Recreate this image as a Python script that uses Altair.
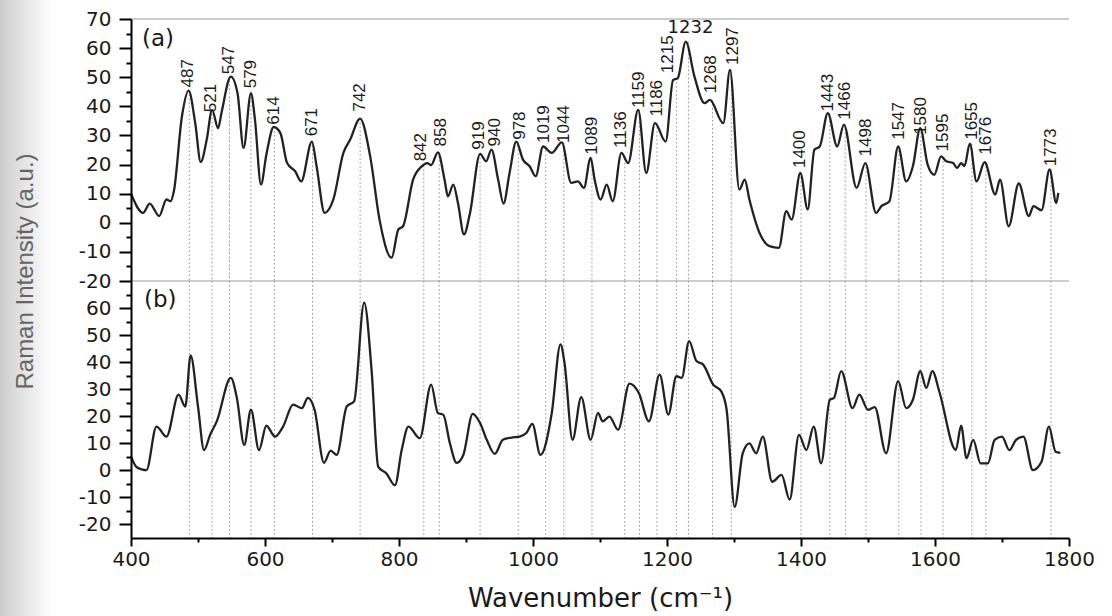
import altair as alt
import pandas as pd

# ---- spectrum (a) ----
a_x = [400, 418, 428, 442, 453, 459, 464, 476, 486, 496, 504, 513, 521, 530, 535, 549, 559, 568,
       579, 585, 594, 602, 613, 623, 633, 645, 654, 670, 677, 689, 702, 717, 727, 742, 757, 771,
       789, 799, 806, 821, 834, 842, 848, 858, 868, 873, 881, 888, 897, 906, 921, 930, 938, 948,
       956, 965, 975, 985, 995, 1004, 1015, 1028, 1043, 1057, 1067, 1076, 1086, 1092, 1101, 1110,
       1119, 1132, 1142, 1157, 1169, 1182, 1198, 1209, 1216, 1228, 1241, 1256, 1264, 1284, 1294,
       1308, 1316, 1323, 1338, 1353, 1367, 1378, 1386, 1399, 1410, 1420, 1428, 1440, 1454, 1464,
       1483, 1496, 1512, 1520, 1532, 1545, 1557, 1567, 1578, 1589, 1599, 1609, 1617, 1627, 1633,
       1639, 1644, 1652, 1662, 1674, 1690, 1697, 1710, 1725, 1740, 1747, 1759, 1771, 1781, 1784]
a_y = [10.0, 3.4, 6.6, 2.3, 8.0, 7.4, 10.8, 36.5, 45.4, 34.0, 20.9, 28.5, 38.8, 32.5, 37.7, 50.2,
       44.5, 25.7, 44.5, 35.4, 13.1, 23.4, 32.9, 30.8, 20.5, 17.7, 14.2, 27.9, 19.4, 3.4, 8.0, 24.0,
       28.5, 35.8, 22.8, 1.0, -12.0, -2.3, -1.2, 14.8, 19.4, 20.5, 19.8, 24.2, 14.8, 9.1, 13.1, 6.8,
       -4.0, 3.4, 23.7, 21.1, 25.1, 14.8, 6.6, 17.1, 27.9, 21.7, 19.4, 16.0, 26.2, 24.0, 27.6, 13.7,
       14.2, 12.0, 22.3, 14.8, 8.0, 13.1, 7.4, 24.0, 20.5, 38.8, 17.1, 34.2, 27.9, 49.0, 49.7, 62.2,
       50.2, 41.1, 42.2, 34.2, 52.5, 11.4, 14.8, 8.0, -3.4, -8.0, -8.6, 4.0, 1.1, 17.1, 4.6, 25.1,
       26.2, 37.7, 26.2, 33.7, 12.0, 20.5, 3.4, 5.7, 7.4, 26.2, 14.2, 19.4, 32.5, 20.0, 16.5, 22.8,
       21.1, 20.5, 18.8, 20.5, 19.5, 27.2, 14.2, 20.8, 9.7, 14.8, -1.2, 13.5, 2.3, 5.7, 4.3, 18.3,
       6.8, 10.3]

# ---- spectrum (b) ----
b_x = [400, 408, 416, 423, 438, 453, 471, 481, 489, 500, 509, 518, 528, 549, 558, 569, 579, 591,
       602, 615, 627, 642, 655, 664, 674, 688, 698, 707, 722, 733, 748, 759, 769, 781, 794, 804,
       814, 831, 848, 858, 866, 876, 886, 896, 910, 921, 931, 943, 955, 968, 980, 990, 999, 1011,
       1028, 1041, 1047, 1059, 1072, 1086, 1097, 1104, 1114, 1127, 1144, 1158, 1173, 1189, 1202,
       1214, 1222, 1233, 1244, 1254, 1269, 1281, 1289, 1301, 1313, 1323, 1333, 1343, 1357, 1371,
       1383, 1397, 1408, 1419, 1430, 1443, 1449, 1460, 1477, 1487, 1500, 1510, 1527, 1545, 1557,
       1567, 1578, 1587, 1596, 1607, 1631, 1639, 1647, 1657, 1668, 1679, 1689, 1700, 1711, 1721,
       1732, 1746, 1759, 1770, 1780, 1787]
b_y = [5.1, 1.3, 0.4, 0.1, 16.2, 12.5, 28.0, 23.6, 42.5, 23.6, 7.5, 13.1, 18.1, 34.2, 26.8, 9.4,
       22.4, 7.5, 16.5, 12.5, 16.2, 24.3, 23.0, 26.8, 22.4, 2.8, 7.3, 5.7, 23.6, 25.5, 62.0, 37.3,
       1.3, -1.1, -5.5, 7.5, 16.2, 11.9, 31.7, 21.2, 20.6, 10.0, 2.8, 5.7, 20.9, 17.5, 11.3, 6.1,
       11.3, 12.1, 12.5, 13.8, 17.2, 5.7, 21.2, 46.6, 39.8, 11.3, 27.1, 11.3, 21.2, 18.1, 19.9, 15.0,
       32.1, 28.6, 18.1, 35.4, 20.6, 34.8, 34.2, 47.8, 40.4, 39.1, 31.7, 29.2, 22.4, -13.5, 6.3,
       10.0, 6.3, 12.5, -4.2, -1.7, -10.8, 13.1, 7.5, 16.2, 2.6, 26.1, 26.7, 36.7, 23.0, 28.0, 22.4,
       23.4, 6.3, 33.0, 23.0, 26.1, 36.7, 30.5, 36.7, 28.6, 7.5, 16.5, 4.5, 11.3, 2.6, 2.6, 11.3,
       12.5, 7.5, 11.3, 12.5, 0.1, 3.2, 16.2, 6.9, 6.5]

# ---- marked peaks (dotted guide lines) ----
line_pos = [487, 521, 547, 579, 614, 671, 742, 837, 860, 921, 978, 1019, 1046, 1088, 1137, 1159,
            1185, 1214, 1232, 1268, 1296, 1400, 1443, 1466, 1497, 1546, 1579, 1612, 1655, 1676, 1773]
line_top = [45.4, 38.8, 50.2, 44.5, 32.9, 27.9, 35.8, 19.6, 24.2, 23.7, 27.9, 26.2, 27.6, 22.3,
            22.0, 38.8, 34.2, 49.7, 62.2, 42.2, 52.5, 17.1, 37.7, 33.7, 20.5, 26.2, 32.5, 22.5,
            27.2, 20.8, 18.3]

# ---- rotated peak labels ----
lab_text = ["487", "521", "547", "579", "614", "671", "742", "842", "858", "919", "940", "978",
            "1019", "1044", "1089", "1136", "1159", "1186", "1215", "1268", "1297", "1400", "1443",
            "1466", "1498", "1547", "1580", "1595", "1655", "1676", "1773"]
lab_x = [485, 520, 547, 579, 614, 670, 742, 833, 862, 920, 944, 981, 1017, 1046, 1088, 1131, 1158,
         1185, 1202, 1265, 1298, 1399, 1441, 1466, 1497, 1546, 1579, 1612, 1655, 1676, 1773]
lab_y = [46.5, 38.0, 51.0, 46.2, 33.7, 29.7, 38.2, 21.1, 26.2, 25.1, 26.2, 28.5, 27.4, 27.4, 23.4,
         25.7, 39.4, 36.5, 51.4, 44.5, 54.2, 18.8, 38.2, 35.4, 22.8, 28.5, 30.2, 24.5, 28.5, 23.4,
         19.4]

# horizontal label on the tallest peak
top_text = ["1232"]
top_x = [1235]
top_y = [65.2]

W, HA, HB = 938, 262, 257
INK = "#222222"

xs = alt.Scale(domain=[400, 1800], nice=False, zero=False)
ysa = alt.Scale(domain=[-20, 70], nice=False, zero=False)
ysb = alt.Scale(domain=[-25, 70], nice=False, zero=False)

df_a = pd.DataFrame({"x": a_x, "y": a_y})
df_b = pd.DataFrame({"x": b_x, "y": b_y})
df_lines = pd.DataFrame({"x": line_pos, "top": line_top})
df_lab = pd.DataFrame({"x": lab_x, "y": lab_y, "t": lab_text})
df_top = pd.DataFrame({"x": top_x, "y": top_y, "t": top_text})
df_one = pd.DataFrame({"k": [0]})
df_frame = pd.DataFrame({"v": [70, -20]})

common_axis = dict(
    domainColor="black", domainWidth=2, tickColor="black", tickWidth=2,
    labelFont="DejaVu Sans", labelFontSize=20, labelColor="#1a1a1a",
    labelFlush=False, labelOverlap=False, grid=False, zindex=2,
)

yaxis_a = alt.Axis(
    values=list(range(-20, 71, 5)),
    labelExpr="datum.value % 10 === 0 ? '' + datum.value : ''",
    tickSize={"condition": {"test": "datum.value % 10 === 0", "value": 12}, "value": 5},
    labelPadding=8,
    title="Raman Intensity (a.u.)", titleFont="Liberation Sans", titleFontSize=24,
    titleFontWeight="normal", titleColor="#666666", titleAngle=270, titleAlign="center",
    titleBaseline="bottom", titleX=-94, titleY=252,
    **common_axis,
)
yaxis_b = alt.Axis(
    values=list(range(-20, 66, 5)),
    labelExpr="datum.value % 10 === 0 ? '' + datum.value : ''",
    tickSize={"condition": {"test": "datum.value % 10 === 0", "value": 12}, "value": 5},
    labelPadding=8, title=None,
    **common_axis,
)
xaxis_b = alt.Axis(
    values=list(range(400, 1801, 100)),
    labelExpr="datum.value % 200 === 0 ? '' + datum.value : ''",
    tickSize={"condition": {"test": "datum.value % 200 === 0", "value": 8}, "value": 4},
    labelPadding=3,
    title="Wavenumber (cm\u207b\u00b9)", titleFont="DejaVu Sans", titleFontSize=26,
    titleFontWeight="normal", titleColor="#1a1a1a", titlePadding=16,
    **common_axis,
)

# scan shading at the left edge of the page
shade = alt.Chart(df_one).mark_rect(
    color=alt.LinearGradient(
        gradient="linear",
        stops=[alt.GradientStop(color="#cdcdcd", offset=0),
               alt.GradientStop(color="#e4e4e4", offset=0.45),
               alt.GradientStop(color="#ffffff", offset=1)],
        x1=0, x2=1, y1=0, y2=0,
    )
).encode(x=alt.value(-131), x2=alt.value(-78), y=alt.value(-19), y2=alt.value(597))

frame_a = alt.Chart(df_frame).mark_rule(color="#9c9c9c", strokeWidth=1).encode(
    y=alt.Y("v:Q", scale=ysa, axis=yaxis_a)
)
guides_a = alt.Chart(df_lines).mark_rule(color="#8e8e8e", strokeWidth=1, strokeDash=[1.5, 2.5]).encode(
    x=alt.X("x:Q", scale=xs, axis=None),
    y=alt.Y("top:Q", scale=ysa, axis=yaxis_a),
    y2=alt.datum(-20),
)
line_a = alt.Chart(df_a).mark_line(color=INK, strokeWidth=2.3, interpolate="monotone").encode(
    x=alt.X("x:Q", scale=xs, axis=None),
    y=alt.Y("y:Q", scale=ysa, axis=yaxis_a),
    order="x:Q",
)
labels_a = alt.Chart(df_lab).mark_text(
    angle=270, align="left", baseline="middle", font="Liberation Sans", fontSize=17, color="#1a1a1a"
).encode(
    x=alt.X("x:Q", scale=xs, axis=None),
    y=alt.Y("y:Q", scale=ysa, axis=yaxis_a),
    text="t:N",
)
toplab_a = alt.Chart(df_top).mark_text(
    align="center", baseline="alphabetic", font="DejaVu Sans", fontSize=18, color="#1a1a1a"
).encode(
    x=alt.X("x:Q", scale=xs, axis=None),
    y=alt.Y("y:Q", scale=ysa, axis=yaxis_a),
    text="t:N",
)
tag_a = alt.Chart(df_one).mark_text(
    align="left", baseline="middle", font="DejaVu Sans", fontSize=23, color="#1a1a1a"
).encode(x=alt.value(11), y=alt.value(20), text=alt.value("(a)"))

top = alt.layer(shade, frame_a, guides_a, line_a, labels_a, toplab_a, tag_a).properties(
    width=W, height=HA
)

guides_b = alt.Chart(df_lines).mark_rule(color="#8e8e8e", strokeWidth=1, strokeDash=[1.5, 2.5]).encode(
    x=alt.X("x:Q", scale=xs, axis=xaxis_b),
)
line_b = alt.Chart(df_b).mark_line(color=INK, strokeWidth=2.3, interpolate="monotone").encode(
    x=alt.X("x:Q", scale=xs, axis=xaxis_b),
    y=alt.Y("y:Q", scale=ysb, axis=yaxis_b),
    order="x:Q",
)
tag_b = alt.Chart(df_one).mark_text(
    align="left", baseline="middle", font="DejaVu Sans", fontSize=23, color="#1a1a1a"
).encode(x=alt.value(13), y=alt.value(19), text=alt.value("(b)"))

bottom = alt.layer(guides_b, line_b, tag_b).properties(width=W, height=HB)

chart = alt.vconcat(top, bottom, spacing=0, bounds="flush").properties(
    padding=0, background="white", autosize=alt.AutoSizeParams(type="pad")
).configure_view(stroke=None)

chart.save("out.html", embed_options={"renderer": "svg", "actions": False})
